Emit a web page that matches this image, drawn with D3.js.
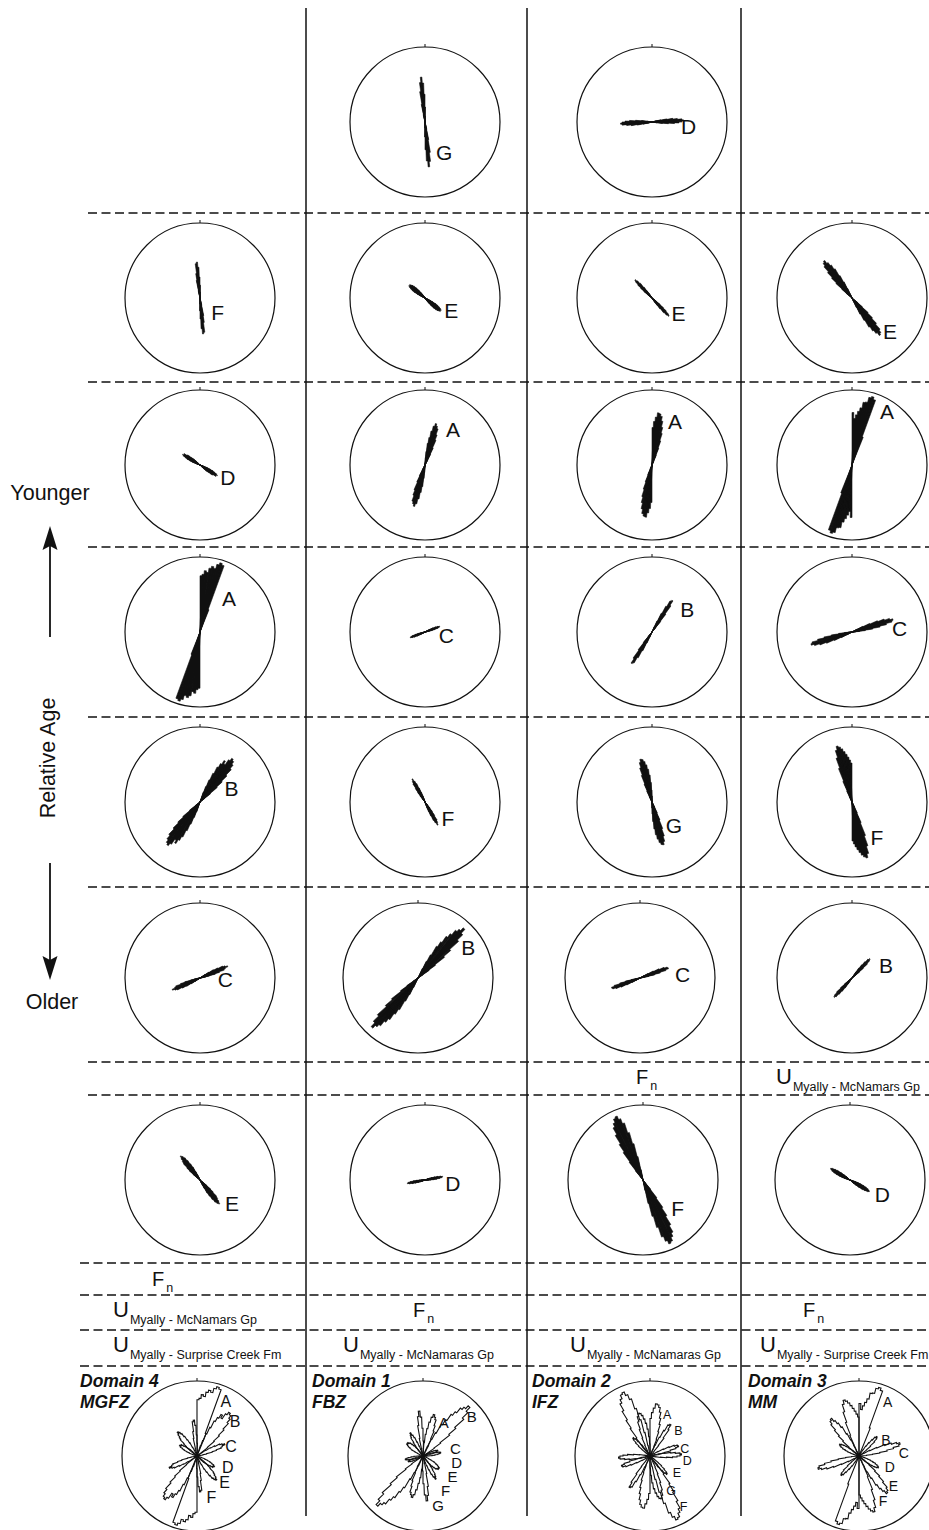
<!DOCTYPE html>
<html>
<head>
<meta charset="utf-8">
<script src="https://cdn.jsdelivr.net/npm/d3@7"></script>
<style>
  body { margin: 0; background: #fff; }
  svg { display: block; }
  text { font-family: "Liberation Sans", Arial, Helvetica, sans-serif; fill: #111; }
</style>
</head>
<body>
<div id="chart"></div>
<script>
// ---------- data ----------
const domainNames = ["Domain 4", "Domain 1", "Domain 2", "Domain 3"];
const zoneNames = ["MGFZ", "FBZ", "IFZ", "MM"];
const binWidth = 2;       // degrees per rose bin
const rimFrequency = 100; // frequency (%) at the rim of every net

// Fracture sets per domain. row: relative-age row (0 = youngest),
// from: azimuth of the first bin (deg), freq: bin frequencies (%)
const domain4Sets = [
  { row: 1, set: "F", from: 346, freq: [10, 24, 33, 46, 48, 41, 28, 17, 8] },
  { row: 2, set: "D", from: 108, freq: [6, 11, 15, 19, 22, 25, 27, 25, 26, 22, 20, 15, 12, 8, 5] },
  { row: 3, set: "A", from: 0,   freq: [75, 77, 82, 80, 86, 89, 87, 93, 96, 94, 32] },
  { row: 4, set: "B", from: 18,  freq: [14, 22, 32, 42, 52, 58, 64, 60, 68, 72, 70, 66, 60, 50, 40, 30, 18, 8] },
  { row: 5, set: "C", from: 54,  freq: [8, 14, 21, 27, 34, 37, 40, 36, 34, 27, 21, 13, 8, 4] },
  { row: 6, set: "E", from: 126, freq: [6, 12, 19, 24, 31, 34, 38, 41, 39, 36, 31, 25, 20, 13, 8, 4] }
];
const domain1Sets = [
  { row: 0, set: "G", from: 346, freq: [10, 24, 41, 53, 60, 52, 37, 20, 8] },
  { row: 1, set: "E", from: 112, freq: [5, 8, 12, 17, 20, 23, 25, 27, 26, 27, 25, 24, 21, 18, 14, 10, 7, 5, 3] },
  { row: 2, set: "A", from: 2,   freq: [10, 18, 29, 37, 46, 53, 57, 54, 51, 43, 36, 25, 16, 8] },
  { row: 3, set: "C", from: 58,  freq: [5, 8, 12, 16, 19, 21, 20, 18, 14, 10, 6, 3] },
  { row: 4, set: "F", from: 138, freq: [5, 10, 16, 22, 29, 32, 35, 31, 27, 20, 14, 9, 5, 3] },
  { row: 5, set: "B", from: 24,  freq: [14, 25, 35, 49, 57, 67, 73, 81, 85, 90, 83, 73, 57, 45, 29, 18, 8] },
  { row: 6, set: "D", from: 66,  freq: [4, 7, 10, 14, 18, 22, 24, 23, 20, 16, 12, 8, 5, 3] }
];
const domain2Sets = [
  { row: 0, set: "D", from: 74,  freq: [6, 12, 20, 28, 34, 40, 42, 40, 36, 30, 22, 14, 7] },
  { row: 1, set: "E", from: 124, freq: [4, 8, 14, 20, 26, 31, 33, 30, 25, 18, 12, 8, 5, 3] },
  { row: 2, set: "A", from: 0,   freq: [50, 58, 64, 70, 69, 66, 60, 52, 44, 34, 24, 14, 6] },
  { row: 3, set: "B", from: 22,  freq: [8, 16, 28, 39, 48, 50, 43, 30, 18, 8] },
  { row: 4, set: "G", from: 152, freq: [8, 16, 26, 38, 48, 55, 59, 58, 55, 50, 44, 36, 26, 16, 8] },
  { row: 5, set: "C", from: 58,  freq: [6, 12, 20, 28, 35, 39, 40, 36, 28, 20, 12, 6] },
  { row: 6, set: "F", from: 140, freq: [16, 30, 45, 57, 70, 80, 85, 90, 92, 87, 80, 66, 50, 32, 14] }
];
const domain3Sets = [
  { row: 1, set: "E", from: 128, freq: [10, 18, 29, 38, 47, 56, 60, 62, 57, 52, 45, 34, 24, 14, 6] },
  { row: 2, set: "A", from: 0,   freq: [70, 62, 67, 72, 77, 85, 86, 93, 95, 92, 40] },
  { row: 3, set: "C", from: 60,  freq: [8, 16, 26, 37, 46, 53, 57, 55, 47, 38, 28, 18, 10, 5] },
  { row: 4, set: "F", from: 152, freq: [8, 16, 30, 48, 62, 72, 77, 75, 72, 68, 64, 60, 56, 52] },
  { row: 5, set: "B", from: 30,  freq: [5, 10, 16, 22, 28, 33, 35, 33, 28, 20, 13, 7, 3] },
  { row: 6, set: "D", from: 104, freq: [4, 8, 12, 16, 20, 24, 27, 29, 30, 28, 25, 21, 16, 11, 7, 4] }
];
const domainSets = [domain4Sets, domain1Sets, domain2Sets, domain3Sets];

// Fault (Fn) and unconformity (U) markers between age rows
const contactNotes = [
  { domain: 2, band: 0, sym: "F", sub: "n" },
  { domain: 3, band: 0, sym: "U", sub: "Myally - McNamars Gp" },
  { domain: 0, band: 1, sym: "F", sub: "n" },
  { domain: 0, band: 2, sym: "U", sub: "Myally - McNamars Gp" },
  { domain: 1, band: 2, sym: "F", sub: "n" },
  { domain: 3, band: 2, sym: "F", sub: "n" },
  { domain: 0, band: 3, sym: "U", sub: "Myally - Surprise Creek Fm" },
  { domain: 1, band: 3, sym: "U", sub: "Myally - McNamaras Gp" },
  { domain: 2, band: 3, sym: "U", sub: "Myally - McNamaras Gp" },
  { domain: 3, band: 3, sym: "U", sub: "Myally - Surprise Creek Fm" }
];
const ageAxis = { top: "Younger", middle: "Relative Age", bottom: "Older" };

// ---------- layout ----------
const W = 929, H = 1530;
const layout = {
  colLines: [306, 527, 741], lineTop: 8, lineBottom: 1516,
  rowLines: [213, 382, 547, 717, 887, 1062, 1095],
  lowerLines: [1263, 1295, 1330, 1366],
  dashLeft: 88, lowerDashLeft: 80,
  netRadius: 75,
  colCentre: [200, 425, 652, 852],
  rowCentre: [122, 298, 465, 632, 802, 978, 1180],
  nudge: { "1-5": -7, "2-5": -12, "2-6": -9, "3-6": -2 },
  summaryY: 1456, summaryX: [197, 423, 650, 859],
  domainLabelX: [80, 312, 532, 748],
  noteX: [636, 776, 152, 113, 413, 803, 113, 343, 570, 760],
  bandBaseline: [1084, 1286, 1317, 1352],
  summaryLabelSize: [16, 15, 12.5, 14],
  // how far along its petal each set letter sits (fraction of petal length)
  labelReach: {
    "0-F": 0.24, "0-D": 0.63, "0-A": 0.57, "0-B": 0.45, "0-C": 0.3, "0-E": 0.77,
    "1-G": 0.55, "1-E": 0.58, "1-A": 1.0, "1-C": 0.3, "1-F": 0.46, "1-B": 0.72, "1-D": 0.62,
    "2-D": 0.62, "2-E": 0.57, "2-A": 0.94, "2-B": 0.9, "2-G": 0.42, "2-C": 0.9, "2-F": 0.36,
    "3-E": 0.75, "3-A": 0.87, "3-C": 0.75, "3-F": 0.53, "3-B": 0.95, "3-D": 0.8
  },
  labelGap: { "2-F": 8 }
};

const svg = d3.select("#chart").append("svg")
  .attr("width", W).attr("height", H).attr("viewBox", `0 0 ${W} ${H}`);

const radius = d3.scaleLinear().domain([0, rimFrequency]).range([0, layout.netRadius]);
const angle = d3.scaleLinear().domain([0, 360]).range([0, 2 * Math.PI]);
const arc = d3.arc();
const outline = d3.lineRadial().angle(d => angle(d[0])).radius(d => radius(d[1]));

const polar = (cx, cy, az, dist) => [cx + dist * Math.sin(angle(az)), cy - dist * Math.cos(angle(az))];

// azimuth (folded into 0-180, the eastern petal) and length of the modal bin
function peakOf(s) {
  const i = d3.maxIndex(s.freq);
  const az = (((s.from + (i + 0.5) * binWidth) % 180) + 180) % 180;
  return { az, len: radius(s.freq[i]) };
}

// ---------- grid ----------
const grid = svg.append("g").attr("stroke", "#111").attr("fill", "none");
grid.selectAll("line.row").data(layout.rowLines).join("line")
  .attr("x1", layout.dashLeft).attr("x2", W).attr("y1", d => d).attr("y2", d => d)
  .attr("stroke-width", 1.4).attr("stroke-dasharray", "9,4.5");
grid.selectAll("line.low").data(layout.lowerLines).join("line")
  .attr("x1", layout.lowerDashLeft).attr("x2", W).attr("y1", d => d).attr("y2", d => d)
  .attr("stroke-width", 1.4).attr("stroke-dasharray", "9,4.5");
grid.selectAll("line.col").data(layout.colLines).join("line")
  .attr("x1", d => d).attr("x2", d => d).attr("y1", layout.lineTop).attr("y2", layout.lineBottom)
  .attr("stroke-width", 1.5);

function drawNet(g, cx, cy) {
  g.append("circle").attr("cx", cx).attr("cy", cy).attr("r", layout.netRadius)
    .attr("fill", "none").attr("stroke", "#111").attr("stroke-width", 1.2);
  g.append("line").attr("x1", cx).attr("x2", cx)
    .attr("y1", cy - layout.netRadius).attr("y2", cy - layout.netRadius - 3)
    .attr("stroke", "#111").attr("stroke-width", 1);
}

// ---------- individual set roses ----------
domainSets.forEach((sets, di) => {
  sets.forEach(s => {
    const key = `${di}-${s.set}`;
    const cx = layout.colCentre[di] + (layout.nudge[`${di}-${s.row}`] || 0);
    const cy = layout.rowCentre[s.row];
    const g = svg.append("g");
    drawNet(g, cx, cy);
    const wedges = [];
    s.freq.forEach((f, i) => {
      [0, 180].forEach(half => {
        const a0 = s.from + i * binWidth + half;
        wedges.push(arc({ innerRadius: 0, outerRadius: radius(f),
          startAngle: angle(a0), endAngle: angle(a0 + binWidth) }));
      });
    });
    g.append("path").attr("transform", `translate(${cx},${cy})`)
      .attr("d", wedges.join(""))
      .attr("fill", "#111").attr("stroke", "#111").attr("stroke-width", 0.6)
      .attr("stroke-linejoin", "round");
    const pk = peakOf(s);
    const reach = layout.labelReach[key] ?? 0.62;
    const [lx, ly] = polar(cx, cy, pk.az, pk.len * reach);
    g.append("text").attr("x", lx + 17 + (layout.labelGap[key] || 0)).attr("y", ly + 13)
      .attr("text-anchor", "middle").attr("font-size", 21).text(s.set);
  });
});

// ---------- summary roses (all sets per domain) ----------
domainSets.forEach((sets, di) => {
  const cx = layout.summaryX[di], cy = layout.summaryY;
  const fs = layout.summaryLabelSize[di];
  const g = svg.append("g");
  drawNet(g, cx, cy);
  sets.forEach(s => {
    [0, 180].forEach(half => {
      const pts = [[s.from + half, 0]];
      s.freq.forEach((f, i) => {
        const a0 = s.from + i * binWidth + half;
        pts.push([a0, f], [a0 + binWidth, f]);
      });
      pts.push([s.from + s.freq.length * binWidth + half, 0]);
      g.append("path").attr("transform", `translate(${cx},${cy})`)
        .attr("d", outline(pts) + "Z")
        .attr("fill", "none").attr("stroke", "#111").attr("stroke-width", 1.1);
    });
  });
  // set letters beside each petal, pushed apart where they would collide
  const labels = sets.map(s => {
    const pk = peakOf(s);
    const [lx, ly] = polar(cx, cy, pk.az, Math.max(pk.len * 0.8, 22));
    return { set: s.set, x: lx + 12, y: ly };
  }).sort((a, b) => a.y - b.y);
  for (let i = 1; i < labels.length; i++) {
    for (let j = 0; j < i; j++) {
      const a = labels[j], b = labels[i];
      if (Math.abs(a.x - b.x) < fs * 1.3 && b.y - a.y < fs * 0.95) b.y = a.y + fs * 0.95;
    }
  }
  g.selectAll("text.set").data(labels).join("text")
    .attr("x", d => d.x).attr("y", d => d.y + fs * 0.36)
    .attr("text-anchor", "middle").attr("font-size", fs).text(d => d.set);
  const t = svg.append("text").attr("x", layout.domainLabelX[di]).attr("y", 1387)
    .attr("font-size", 17.5).attr("font-weight", "bold").attr("font-style", "italic");
  t.append("tspan").attr("x", layout.domainLabelX[di]).text(domainNames[di]);
  t.append("tspan").attr("x", layout.domainLabelX[di]).attr("dy", 21).text(zoneNames[di]);
});

// ---------- contact notes ----------
contactNotes.forEach((n, i) => {
  const t = svg.append("text").attr("x", layout.noteX[i]).attr("y", layout.bandBaseline[n.band]);
  t.append("tspan").attr("font-size", n.sym === "U" ? 22 : 20).text(n.sym);
  t.append("tspan").attr("font-size", 12.5).attr("dx", n.sym === "U" ? 1 : 2)
    .attr("dy", n.sym === "U" ? 7 : 6).text(n.sub);
});

// ---------- relative age axis ----------
const axis = svg.append("g");
axis.append("text").attr("x", 50).attr("y", 500).attr("text-anchor", "middle")
  .attr("font-size", 21.5).text(ageAxis.top);
axis.append("text").attr("transform", "translate(55,758) rotate(-90)").attr("text-anchor", "middle")
  .attr("font-size", 21.5).text(ageAxis.middle);
axis.append("text").attr("x", 52).attr("y", 1009).attr("text-anchor", "middle")
  .attr("font-size", 21.5).text(ageAxis.bottom);
axis.append("line").attr("x1", 50).attr("x2", 50).attr("y1", 637).attr("y2", 544)
  .attr("stroke", "#111").attr("stroke-width", 1.8);
axis.append("path").attr("d", "M50,526 L57.5,550 L50,546 L42.5,550 Z").attr("fill", "#111");
axis.append("line").attr("x1", 50).attr("x2", 50).attr("y1", 863).attr("y2", 962)
  .attr("stroke", "#111").attr("stroke-width", 1.8);
axis.append("path").attr("d", "M50,980 L57.5,956 L50,960 L42.5,956 Z").attr("fill", "#111");
</script>
</body>
</html>
